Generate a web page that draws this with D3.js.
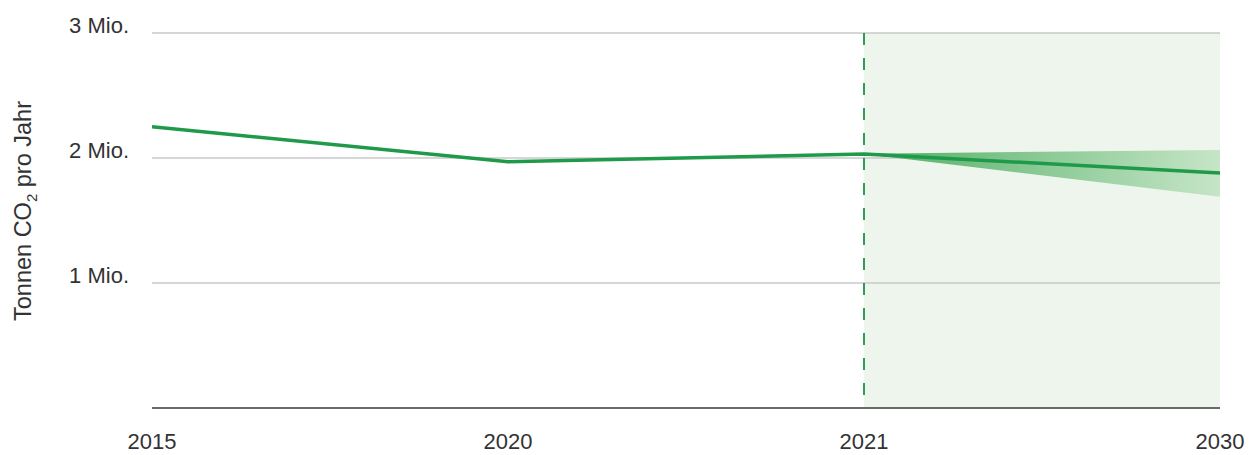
<!DOCTYPE html>
<html><head><meta charset="utf-8">
<script src="https://cdn.jsdelivr.net/npm/d3@7/dist/d3.min.js"></script>
<style>body{margin:0;background:#fff;} text{font-family:"Liberation Sans",Arial,sans-serif;}</style>
</head><body>
<svg id="c" width="1254" height="455"></svg>
<script>
const years = ["2015","2020","2021","2030"];
const values = [2.25, 1.97, 2.032, 1.88];
const forecastYears = ["2021","2030"];
const bandUpper = [2.035, 2.065];
const bandLower = [2.032, 1.69];
const yTicks = [1, 2, 3];
const yTickLabels = ["1 Mio.", "2 Mio.", "3 Mio."];

const svg = d3.select("#c");
const x = d3.scalePoint().domain(years).range([152, 1220]);
const y = d3.scaleLinear().domain([0, 3]).range([408, 33]);
const green = "#1f9a4a";

const defs = svg.append("defs");
const grad = defs.append("linearGradient").attr("id","bg").attr("x1","0").attr("x2","1").attr("y1","0").attr("y2","0");
grad.append("stop").attr("offset","0%").attr("stop-color","#4fae64");
grad.append("stop").attr("offset","100%").attr("stop-color","#c6e5c6");

// forecast area background
svg.append("rect").attr("x", x("2021")).attr("y", y(3))
  .attr("width", x("2030") - x("2021")).attr("height", y(0) - y(3))
  .attr("fill", "#eef5ec");

// gridlines
svg.append("g").selectAll("line").data(yTicks).join("line")
  .attr("x1", x("2015")).attr("x2", x("2030"))
  .attr("y1", d => y(d)).attr("y2", d => y(d))
  .attr("stroke", "#c9c9c9").attr("stroke-width", 1.5);

// baseline
svg.append("line").attr("x1", x("2015")).attr("x2", x("2030"))
  .attr("y1", y(0)).attr("y2", y(0)).attr("stroke", "#6a6a6a").attr("stroke-width", 2);

// y tick labels
svg.append("g").selectAll("text").data(yTicks).join("text")
  .attr("x", 129).attr("y", d => y(d))
  .attr("text-anchor", "end").attr("font-size", 22).attr("fill", "#333")
  .text((d, i) => yTickLabels[i]);

// x labels
svg.append("g").selectAll("text").data(years).join("text")
  .attr("x", d => x(d)).attr("y", 449)
  .attr("text-anchor", "middle").attr("font-size", 22).attr("fill", "#333")
  .text(d => d);

// y axis title
const yt = svg.append("text").attr("transform", "translate(31,211) rotate(-90)")
  .attr("text-anchor", "middle").attr("font-size", 23.5).attr("fill", "#333");
yt.append("tspan").text("Tonnen CO");
yt.append("tspan").attr("font-size", 15).attr("dy", 6).text("2");
yt.append("tspan").attr("dy", -6).text(" pro Jahr");

// band
const bandData = forecastYears.map((yr, i) => ({yr, lo: bandLower[i], hi: bandUpper[i]}));
svg.append("path").datum(bandData)
  .attr("d", d3.area().x(d => x(d.yr)).y0(d => y(d.lo)).y1(d => y(d.hi)))
  .attr("fill", "url(#bg)");

// dashed divider
svg.append("line").attr("x1", x("2021")).attr("x2", x("2021"))
  .attr("y1", y(3)).attr("y2", y(0))
  .attr("stroke", "#2e9e55").attr("stroke-width", 2).attr("stroke-dasharray", "12,13");

// main line
const lineData = years.map((yr, i) => ({yr, v: values[i]}));
svg.append("path").datum(lineData)
  .attr("d", d3.line().x(d => x(d.yr)).y(d => y(d.v)))
  .attr("fill", "none").attr("stroke", green).attr("stroke-width", 3.5);
</script>
</body></html>
